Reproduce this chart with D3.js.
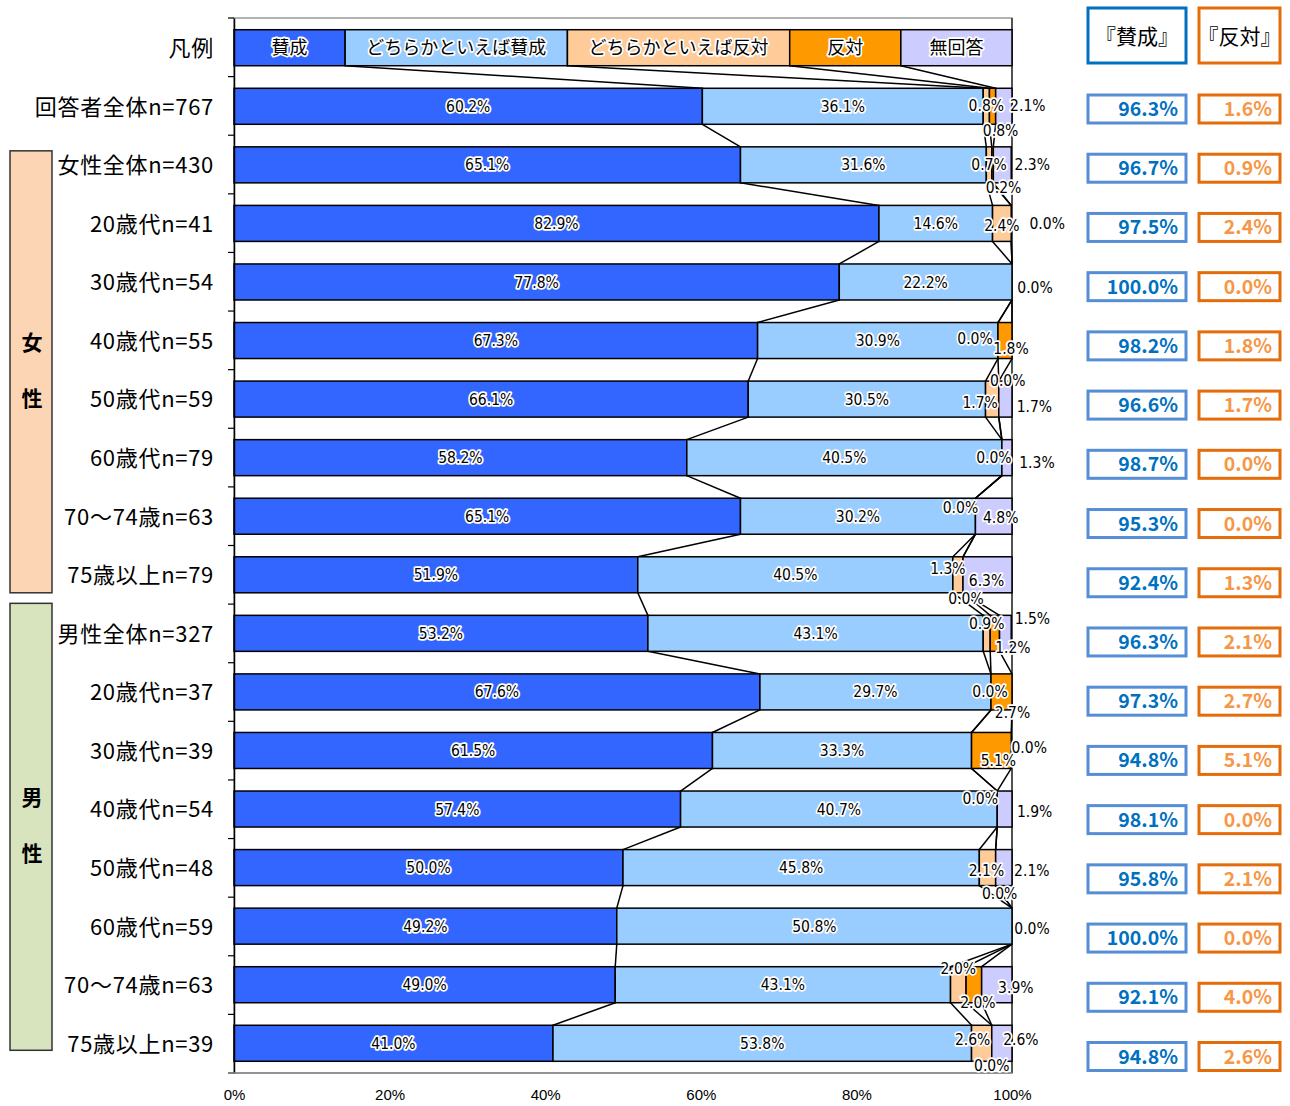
<!DOCTYPE html>
<html>
<head>
<meta charset="utf-8">
<script src="https://cdn.jsdelivr.net/npm/d3@7"></script>
<style>
  body { margin: 0; background: #fff; }
  svg { font-family: "Noto Sans CJK JP", "Noto Sans", sans-serif; }
  .halo { paint-order: stroke; stroke: #fff; stroke-width: 3.5px; stroke-linejoin: round; }
</style>
</head>
<body>
<svg id="chart" width="1290" height="1106"></svg>
<script>
// rows, top to bottom (legend row first)
const legendRow = '凡例';
const categories = [
  '回答者全体n=767',
  '女性全体n=430', '20歳代n=41', '30歳代n=54', '40歳代n=55', '50歳代n=59', '60歳代n=79', '70〜74歳n=63', '75歳以上n=79',
  '男性全体n=327', '20歳代n=37', '30歳代n=39', '40歳代n=54', '50歳代n=48', '60歳代n=59', '70〜74歳n=63', '75歳以上n=39'
];
const seriesNames = ['賛成', 'どちらかといえば賛成', 'どちらかといえば反対', '反対', '無回答'];
const seriesColors = ['#3366FF', '#99CCFF', '#FFCC99', '#FF9900', '#CCCCFF'];
const legendShares = [1, 2, 2, 1, 1];

const sansei      = [60.2, 65.1, 82.9, 77.8, 67.3, 66.1, 58.2, 65.1, 51.9, 53.2, 67.6, 61.5, 57.4, 50.0, 49.2, 49.0, 41.0];
const yaSansei    = [36.1, 31.6, 14.6, 22.2, 30.9, 30.5, 40.5, 30.2, 40.5, 43.1, 29.7, 33.3, 40.7, 45.8, 50.8, 43.1, 53.8];
const yaHantai    = [0.8, 0.7, 2.4, 0.0, 0.0, 1.7, 0.0, 0.0, 1.3, 0.9, 0.0, 0.0, 0.0, 2.1, 0.0, 2.0, 2.6];
const hantai      = [0.8, 0.2, 0.0, 0.0, 1.8, 0.0, 0.0, 0.0, 0.0, 1.2, 2.7, 5.1, 0.0, 0.0, 0.0, 2.0, 0.0];
const mukaitou    = [2.1, 2.3, 0.0, 0.0, 0.0, 1.7, 1.3, 4.8, 6.3, 1.5, 0.0, 0.0, 1.9, 2.1, 0.0, 3.9, 2.6];

const sumSansei = [96.3, 96.7, 97.5, 100.0, 98.2, 96.6, 98.7, 95.3, 92.4, 96.3, 97.3, 94.8, 98.1, 95.8, 100.0, 92.1, 94.8];
const sumHantai = [1.6, 0.9, 2.4, 0.0, 1.8, 1.7, 0.0, 0.0, 1.3, 2.1, 2.7, 5.1, 0.0, 2.1, 0.0, 4.0, 2.6];

const groups = [
  { name: ['女', '性'], first: 1, last: 8, fill: '#FCD5B5', padTop: 4, padBottom: 0 },
  { name: ['男', '性'], first: 9, last: 16, fill: '#D7E4BD', padTop: -12, padBottom: -11 }
];

// label placement for the small segments (index 2..4): [dx, dy] from segment centre, null = hidden
const labelOffsets = [
  [[0, -1], [8, 24], [24, -1]],
  [[0, 0], [11, 23], [30, 0]],
  [[0, 2], null, [36, 0]],
  [null, null, [23, 5]],
  [[-23, -2], [6, 8], null],
  [[-12, 3], [9, -19], [29, 7]],
  [[-8, 0], null, [30, 5]],
  [[-15, -9], null, [7, 1]],
  [[-10, -6], [3, 24], [-1, 6]],
  [[0, -10], [18, 14], [27, -15]],
  [[-1, 0], [11, 21], null],
  [null, [7, 10], [18, -3]],
  [[-17, -11], null, [30, 2]],
  [[-1, 3], [4, 26], [28, 3]],
  [null, null, [20, 2]],
  [[0, -16], [4, 18], [19, 3]],
  [[-9, -4], [0, 22], [19, -4]]
];

const svg = d3.select('#chart');
const plot = { left: 234, right: 1012, top: 18, bottom: 1073 };

const rows = [legendRow].concat(categories);
const x = d3.scaleLinear().domain([0, 100]).range([plot.left, plot.right]);
const y = d3.scaleBand().domain(d3.range(rows.length)).range([plot.top, plot.bottom]).paddingInner(0.385).paddingOuter(0.2);

const values = [sansei, yaSansei, yaHantai, hantai, mukaitou];
const legendTotal = d3.sum(legendShares);
const rowData = rows.map((name, i) => {
  const v = i === 0 ? legendShares.map(s => s / legendTotal * 100) : values.map(arr => arr[i - 1]);
  let acc = 0;
  const segs = v.map((val, k) => {
    const s = { row: i, k, val, x0: acc, x1: acc + val };
    acc += val;
    return s;
  });
  segs.forEach(s => { if (s.x1 > 100) s.x1 = 100; if (s.x0 > 100) s.x0 = 100; });
  return segs;
});

// plot frame
svg.append('rect')
  .attr('x', plot.left).attr('y', plot.top)
  .attr('width', plot.right - plot.left).attr('height', plot.bottom - plot.top)
  .attr('fill', 'none').attr('stroke', '#999').attr('stroke-width', 1.5);
svg.append('line')
  .attr('x1', plot.right).attr('x2', plot.right).attr('y1', plot.top).attr('y2', plot.bottom)
  .attr('stroke', '#333').attr('stroke-width', 1.5);

// connector lines
const conn = svg.append('g').attr('stroke', '#000').attr('stroke-width', 1.5);
for (let i = 0; i < rows.length - 1; i++) {
  for (let k = 0; k < 4; k++) {
    conn.append('line')
      .attr('x1', x(rowData[i][k].x1)).attr('y1', y(i) + y.bandwidth())
      .attr('x2', x(rowData[i + 1][k].x1)).attr('y2', y(i + 1));
  }
}

// bars
svg.append('g').selectAll('g').data(rowData).join('g')
  .selectAll('rect').data(d => d).join('rect')
  .attr('x', d => x(d.x0))
  .attr('y', d => y(d.row))
  .attr('width', d => Math.max(0, x(d.x1) - x(d.x0)))
  .attr('height', y.bandwidth())
  .attr('fill', d => seriesColors[d.k])
  .attr('stroke', '#000').attr('stroke-width', 1.5);

// left axis
const yAxis = d3.axisLeft(y).tickSize(0).tickFormat(i => rows[i]).tickPadding(20);
const ya = svg.append('g').attr('transform', `translate(${plot.left},0)`).call(yAxis);
ya.select('.domain').attr('stroke', '#000').attr('stroke-width', 1.5);
ya.selectAll('text').attr('font-size', 22).attr('fill', '#000')
  .attr('letter-spacing', '0.7px')
  .attr('dy', '0.38em')
  .attr('font-family', '"Noto Sans CJK JP", sans-serif');
svg.append('g').selectAll('line').data(d3.range(rows.length + 1)).join('line')
  .attr('x1', plot.left - 6).attr('x2', plot.left)
  .attr('y1', i => plot.top + i * (plot.bottom - plot.top) / rows.length)
  .attr('y2', i => plot.top + i * (plot.bottom - plot.top) / rows.length)
  .attr('stroke', '#000').attr('stroke-width', 1.2);

// bottom axis
const xAxis = d3.axisBottom(x).tickValues([0, 20, 40, 60, 80, 100]).tickSize(0).tickPadding(16).tickFormat(d => d + '%');
const xa = svg.append('g').attr('transform', `translate(0,${plot.bottom})`).call(xAxis);
xa.select('.domain').remove();
xa.selectAll('text').attr('font-size', 15).attr('fill', '#000');
svg.append('line').attr('x1', plot.left - 6).attr('x2', plot.right)
  .attr('y1', plot.bottom).attr('y2', plot.bottom).attr('stroke', '#888').attr('stroke-width', 1.5);

// legend labels
svg.append('g').selectAll('text').data(rowData[0]).join('text')
  .attr('class', 'halo')
  .attr('x', d => x((d.x0 + d.x1) / 2))
  .attr('y', y(0) + y.bandwidth() / 2)
  .attr('dy', '0.36em')
  .attr('text-anchor', 'middle')
  .attr('font-size', 18)
  .text(d => seriesNames[d.k]);

// value labels
const labels = [];
rowData.slice(1).forEach((segs, r) => {
  segs.forEach(s => {
    let dx = 0, dy = 0;
    if (s.k >= 2) {
      const off = labelOffsets[r][s.k - 2];
      if (!off) return;
      dx = off[0]; dy = off[1];
    }
    labels.push({ s, dx, dy });
  });
});
svg.append('g').selectAll('text').data(labels).join('text')
  .attr('class', 'halo')
  .attr('x', d => x((d.s.x0 + d.s.x1) / 2) + d.dx)
  .attr('y', d => y(d.s.row) + y.bandwidth() / 2 + d.dy)
  .attr('dy', '0.36em')
  .attr('text-anchor', 'middle')
  .attr('font-size', 15.5)
  .attr('font-family', '"DejaVu Sans Condensed", "Noto Sans", sans-serif')
  .text(d => d.s.val.toFixed(1) + '%');

// group boxes on the left
const gg = svg.append('g');
groups.forEach(g => {
  const top = y(g.first + 1) + g.padTop;
  const bottom = y(g.last + 1) + y.bandwidth() + g.padBottom;
  gg.append('rect').attr('x', 10).attr('y', top).attr('width', 42).attr('height', bottom - top)
    .attr('fill', g.fill).attr('stroke', '#333').attr('stroke-width', 1.5);
  const mid = (top + bottom) / 2;
  g.name.forEach((ch, j) => {
    gg.append('text').attr('x', 32).attr('y', mid + (j === 0 ? -29 : 27)).attr('dy', '0.36em')
      .attr('text-anchor', 'middle').attr('font-size', 21).attr('font-weight', 'bold').text(ch);
  });
});

// summary columns
const boxY = d3.scalePoint().domain(d3.range(categories.length)).range([109, 1056.5]);
const cols = [
  { title: '『賛成』', vals: sumSansei, x0: 1088, x1: 1186, head: '#0070C0', edge: '#558ED5', text: '#0070C0' },
  { title: '『反対』', vals: sumHantai, x0: 1199, x1: 1280, head: '#E46C0A', edge: '#E46C0A', text: '#F79646' }
];
cols.forEach(c => {
  const g = svg.append('g');
  g.append('rect').attr('x', c.x0).attr('y', 8).attr('width', c.x1 - c.x0).attr('height', 55)
    .attr('fill', '#fff').attr('stroke', c.head).attr('stroke-width', 3);
  g.append('text').attr('x', (c.x0 + c.x1) / 2).attr('y', 36).attr('dy', '0.36em')
    .attr('text-anchor', 'middle').attr('font-size', 21).text(c.title);
  g.selectAll('rect.v').data(c.vals).join('rect').attr('class', 'v')
    .attr('x', c.x0).attr('y', (d, i) => boxY(i) - 14)
    .attr('width', c.x1 - c.x0).attr('height', 28)
    .attr('fill', '#fff').attr('stroke', c.edge).attr('stroke-width', 3);
  g.selectAll('text.v').data(c.vals).join('text').attr('class', 'v')
    .attr('x', c.x1 - 8).attr('y', (d, i) => boxY(i)).attr('dy', '0.36em')
    .attr('text-anchor', 'end').attr('font-size', 19.5).attr('font-weight', 'bold')
    .attr('fill', c.text).text(d => d.toFixed(1) + '%');
});
</script>
</body>
</html>
